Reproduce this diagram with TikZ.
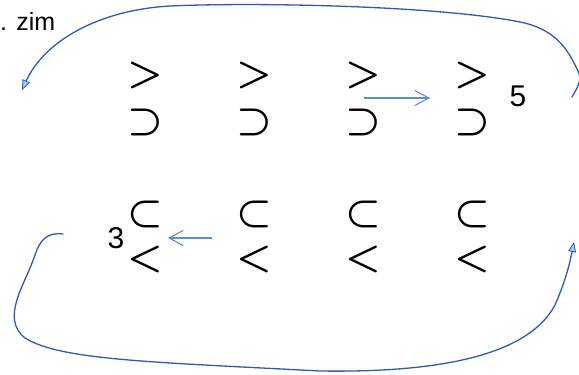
\documentclass[tikz,border=0pt]{standalone}
\usepackage{fontspec}
\setmainfont{Liberation Sans}
\usetikzlibrary{arrows.meta}
\definecolor{arcblue}{RGB}{45,90,180}
\definecolor{arrblue}{RGB}{90,140,215}
\definecolor{tipfill}{RGB}{170,200,240}
\newcommand{\bigsym}[1]{\scalebox{4}{\boldmath$#1$}}
\tikzset{
  sym/.style={inner sep=0pt},
  num/.style={inner sep=0pt, font=\fontsize{30}{30}\selectfont},
  arc/.style={draw=arcblue, line width=1.3pt, line cap=round},
  smallarr/.style={draw=arrblue, line width=1.1pt, -{Straight Barb[length=14pt,width=15pt,line width=1.1pt]}},
}
\begin{document}
\begin{tikzpicture}[x=1pt,y=-1pt]
\useasboundingbox (0,0) rectangle (579,375);
% label
\node[inner sep=0pt, anchor=base west, font=\fontsize{25}{25}\selectfont] (zim) at (0,30) {. zim};
% symbols
\foreach \i/\x in {1/145,2/254,3/363,4/472}{
  \node[sym] (g\i) at (\x,75) {\bigsym{>}};
  \node[sym] (s\i) at (\x,122) {\bigsym{\supset}};
  \node[sym] (b\i) at (\x,214) {\bigsym{\subset}};
  \node[sym] (l\i) at (\x,259) {\bigsym{<}};
}
\node[num] (five) at (518,96) {5};
\node[num] (three) at (116,238) {3};
% small arrows
\coordinate (m1) at (364,98);
\coordinate (m2) at (430,98);
\draw[smallarr] (m1) -- (m2);
\coordinate (n1) at (212,238);
\coordinate (n2) at (168,238);
\draw[smallarr] (n1) -- (n2);
% top arc
\coordinate (ta) at (572,97);
\coordinate (tb) at (22,90);
\draw[arc, -{Triangle[length=10pt,width=8pt,fill=tipfill,line width=0.8pt]}]
  (ta) .. controls (576,90) and (583,80) .. (578,71)
       .. controls (570,55) and (560,30) .. (520,22)
       .. controls (440,6) and (260,2) .. (170,6)
       .. controls (100,10) and (45,40) .. (tb);
% bottom arc
\coordinate (ba) at (63,234);
\coordinate (bb) at (574,242);
\draw[arc, -{Triangle[length=10pt,width=8pt,fill=tipfill,line width=0.8pt]}]
  (ba) .. controls (47,232) and (40,240) .. (35,255)
       .. controls (25,285) and (0,318) .. (25,338)
       .. controls (60,360) and (150,362) .. (320,371)
       .. controls (450,373) and (530,352) .. (555,305)
       .. controls (566,280) and (570,262) .. (bb);
\end{tikzpicture}
\end{document}
